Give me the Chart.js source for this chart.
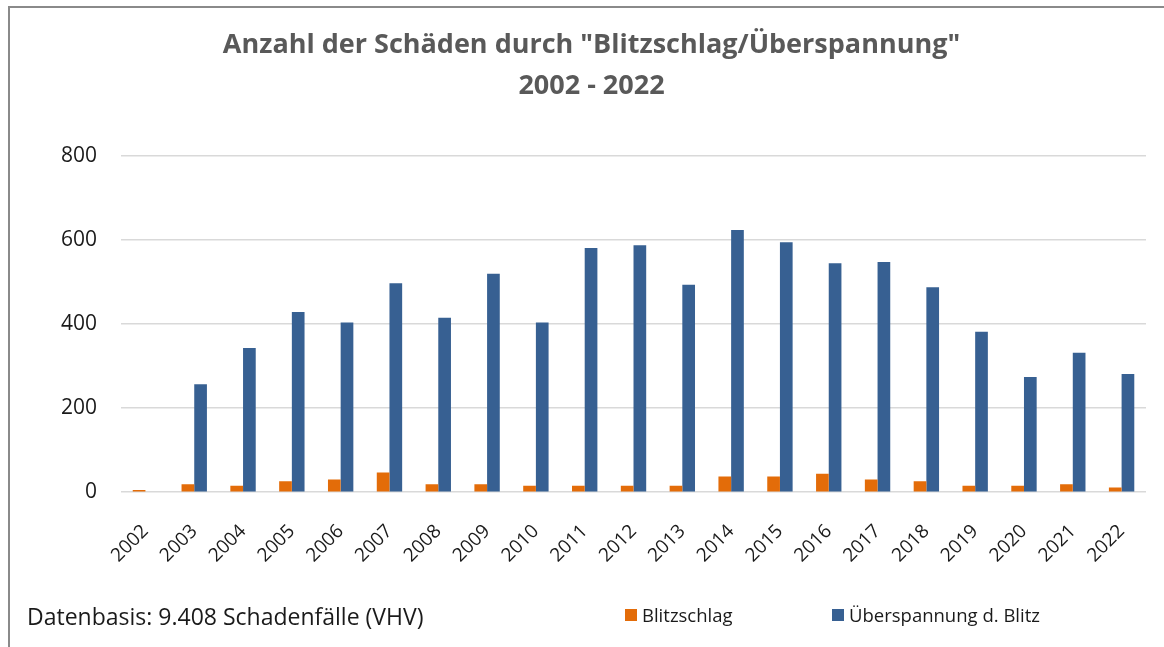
<!DOCTYPE html>
<html>
<head>
<meta charset="utf-8">
<script src="https://cdn.jsdelivr.net/npm/chart.js@4"></script>
<style>
    html, body { margin: 0; padding: 0; background: #fff; }
    #wrap { position: relative; width: 1164px; height: 647px; overflow: hidden; }
    #frame { position: absolute; left: 8px; top: 6px; width: 1170px; height: 660px;
             border-left: 2px solid #8a8a8a; border-top: 2px solid #8a8a8a; }
    #chart { position: absolute; left: 0; top: 0; }
    #note { position: absolute; left: 27px; top: 600px; line-height: 1; font: 23px "Open Sans", sans-serif; color: #1a1a1a; }
    #legend { position: absolute; top: 606px; left: 0; line-height: 1; font: 18.5px "Open Sans", sans-serif; color: #1a1a1a; }
    #legend span.item { position: absolute; white-space: nowrap; display: flex; align-items: center; line-height: 1; }
    #legend span.box { display: inline-block; width: 12px; height: 12px; margin-right: 5px; }
</style>
</head>
<body>
<div id="wrap">
    <div id="frame"></div>
    <canvas id="chart" width="1164" height="647"></canvas>
    <div id="note">Datenbasis: 9.408 Schadenfälle (VHV)</div>
    <div id="legend"></div>
</div>
<script>
// === DATA ===
const years = ["2002", "2003", "2004", "2005", "2006", "2007", "2008", "2009", "2010", "2011", "2012",
    "2013", "2014", "2015", "2016", "2017", "2018", "2019", "2020", "2021", "2022"];
const blitzschlag = [5, 19, 15, 26, 30, 47, 19, 19, 15, 15, 15, 15, 37, 37, 44, 30, 26, 15, 15, 19, 11];
const ueberspannung = [0, 257, 343, 429, 404, 497, 415, 520, 404, 581, 588, 494, 624, 595, 545, 548, 488, 382, 274, 332, 281];
const yTicks = [0, 200, 400, 600, 800];

const seriesNames = ["Blitzschlag", "Überspannung d. Blitz"];
const seriesColors = ["#e36c09", "#376092"];
const legendX = [625, 832];

const ctx = document.getElementById("chart");

const chart = new Chart(ctx, {
    type: "bar",
    data: {
        labels: years,
        datasets: [
            { label: seriesNames[0], data: blitzschlag, backgroundColor: seriesColors[0] },
            { label: seriesNames[1], data: ueberspannung, backgroundColor: seriesColors[1] }
        ]
    },
    options: {
        responsive: false,
        animation: false,
        layout: { padding: { left: 37, right: 18, top: 25, bottom: 60 } },
        datasets: {
            bar: { categoryPercentage: 0.52, barPercentage: 1.0 }
        },
        scales: {
            x: {
                grid: { display: false },
                border: { display: false },
                ticks: {
                    minRotation: 45, maxRotation: 45,
                    padding: 20,
                    color: "#1a1a1a",
                    font: { family: "Open Sans", size: 19 }
                }
            },
            y: {
                min: yTicks[0],
                max: yTicks[yTicks.length - 1],
                afterBuildTicks: (axis) => { axis.ticks = yTicks.map(v => ({ value: v })); },
                grid: { color: "#d9d9d9", lineWidth: 1.5, drawTicks: false },
                border: { display: false },
                ticks: {
                    padding: 24,
                    color: "#1a1a1a",
                    font: { family: "Open Sans", size: 21 }
                }
            }
        },
        plugins: {
            legend: { display: false },
            tooltip: { enabled: false },
            title: {
                display: true,
                text: ["Anzahl der Schäden durch \"Blitzschlag/Überspannung\"", "2002 - 2022"],
                color: "#595959",
                font: { family: "Open Sans", size: 27, weight: "bold", lineHeight: 1.52 },
                padding: { top: 0, bottom: 49 }
            }
        }
    }
});

// legend built from the datasets
const legendEl = document.getElementById("legend");
chart.data.datasets.forEach((ds, i) => {
    const item = document.createElement("span");
    item.className = "item";
    item.style.left = legendX[i] + "px";
    item.innerHTML = `<span class="box" style="background:${ds.backgroundColor}"></span>${ds.label}`;
    legendEl.appendChild(item);
});
</script>
</body>
</html>
